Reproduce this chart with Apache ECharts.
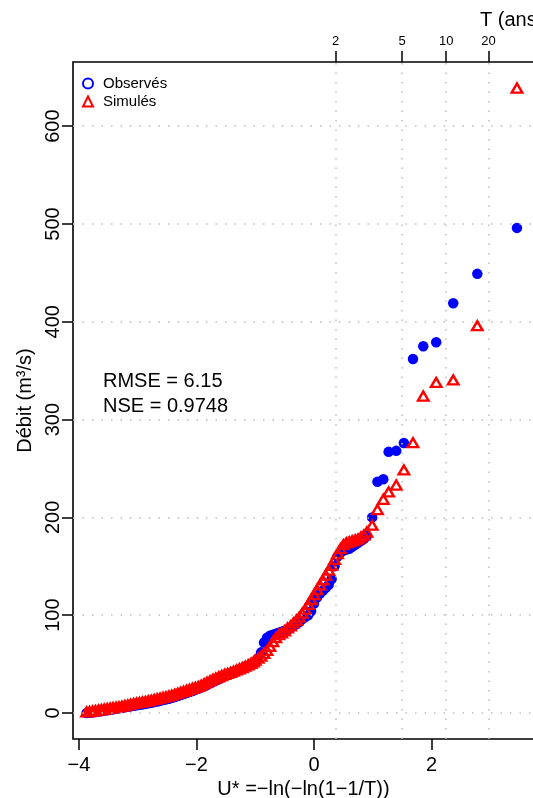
<!DOCTYPE html>
<html>
<head>
<meta charset="utf-8">
<script src="https://cdn.jsdelivr.net/npm/echarts@6/dist/echarts.min.js"></script>
<style>
html,body{margin:0;padding:0;background:#fff;}
#chart{width:533px;height:798px;}
</style>
</head>
<body>
<div id="chart"></div>
<script>
// Gumbel reduced variable (plotting positions) shared by both series
const uValues = [-3.87,-3.82,-3.77,-3.72,-3.67,-3.62,-3.57,-3.52,-3.47,-3.42,-3.37,-3.32,-3.27,-3.22,-3.17,-3.12,-3.07,-3.02,-2.97,-2.92,-2.87,-2.82,-2.77,-2.72,-2.67,-2.62,-2.57,-2.52,-2.47,-2.42,-2.37,-2.32,-2.27,-2.22,-2.17,-2.12,-2.07,-2.02,-1.97,-1.92,-1.87,-1.82,-1.77,-1.72,-1.67,-1.62,-1.57,-1.52,-1.47,-1.42,-1.37,-1.32,-1.27,-1.22,-1.17,-1.12,-1.07,-1.03,
  -1.0,-0.95,-0.9,-0.85,-0.8,-0.75,-0.7,-0.65,-0.6,-0.55,-0.5,-0.45,-0.4,-0.35,-0.3,-0.25,-0.2,-0.15,-0.1,-0.05,0,0.05,0.1,0.15,0.2,0.25,0.3,0.35,0.4,0.45,0.5,0.55,0.6,0.65,0.7,0.75,0.8,0.85,0.9,
  0.99,1.08,1.18,1.27,1.40,1.53,1.685,1.86,2.08,2.37,2.78,3.455];
// Observed discharge (m3/s)
const observed = [0,0.2,0.6,1,1.4,1.9,2.4,2.8,3.3,3.8,4.3,4.8,5.3,5.8,6.3,6.8,7.3,7.8,8.3,8.8,9.3,9.9,10.5,11.2,11.8,12.5,13.2,13.9,14.6,15.5,16.4,17.4,18.4,19.4,20.4,21.4,22.5,23.6,24.8,26,27.4,28.8,30.3,31.8,33.3,34.8,36.3,37.8,39.3,40.6,41.8,43,44.3,45.6,47,48.4,49.9,51.2,
  53,56,62,72,77,79,80,81,82,83,84,85,87,89,91,93,96,98,100,104,112,118,122,125,128,131,137,150,160,164,166,167,168,170,172,174,176,178,181,
  200,236.5,239,267,268,276,362,375,379,419,449,496];
// Simulated discharge (m3/s)
const simulated = [1,1.5,2,2.5,3,3.5,4,4.5,5,5.5,6,6.5,7,7.6,8.3,9,9.7,10.3,10.8,11.3,11.8,12.4,13.1,13.8,14.5,15.2,16,16.7,17.4,18.2,19.2,20.2,21.2,22.2,23.2,24.2,25.2,26.2,27.2,28.5,30,31.5,33,34.5,35.8,37,38.3,39.5,40.5,41.5,42.7,44,45.2,46.4,47.8,49.3,50.8,52.2,
  54,56,58,61,64,68,73,77,80,82,84,87,89,92,95,98,102,106,111,116,121,126,131,136,141,146,151,157,163,168,172,174,175,176,177,178,180,182,185,
  192,208,218.5,226,233,248.5,276.4,324,338,340.5,396,639];
// Axis ticks
const xTicks = [-4,-2,0,2];
const yTicks = [0,100,200,300,400,500,600];
const returnPeriods = [2,5,10,20];
const seriesNames = ['Observés','Simulés'];

const FONT = '"Liberation Sans", Arial, Helvetica, sans-serif';
const gumbel = T => -Math.log(-Math.log(1 - 1/T));
const tU = returnPeriods.map(gumbel);
const minus = v => (v < 0 ? '\u2212' + Math.abs(v) : String(v));

const chart = echarts.init(document.getElementById('chart'), null, {renderer:'canvas'});
const gridStyle = {color:'#BEBEBE', type:[1.5,8], width:1.5};

chart.setOption({
  animation:false,
  backgroundColor:'#fff',
  grid:{left:73, top:62, width:461, height:677, show:true, borderColor:'#000', borderWidth:1.6,
        backgroundColor:'transparent', containLabel:false, outerBoundsMode:'none'},
  legend:{
    orient:'vertical', left:77, top:71, itemWidth:10, itemHeight:10, itemGap:3,
    textStyle:{fontSize:15, color:'#000', fontFamily:FONT, padding:[0,0,0,5]},
    data:[
      {name:seriesNames[0], icon:'circle', itemStyle:{color:'rgba(0,0,0,0)', borderColor:'#0000ff', borderWidth:2}},
      {name:seriesNames[1], icon:'triangle', itemStyle:{color:'rgba(0,0,0,0)', borderColor:'#ff0000', borderWidth:2}}
    ]
  },
  xAxis:[
    {type:'value', position:'bottom', min:-4.102, max:3.745,
     axisLine:{show:false, onZero:false}, splitLine:{show:false},
     axisTick:{show:true, customValues:xTicks, length:11, lineStyle:{color:'#000', width:1.5}},
     axisLabel:{customValues:xTicks, formatter:minus, fontSize:20, color:'#000', fontFamily:FONT, margin:16},
     name:'U* =\u2212ln(\u2212ln(1\u22121/T))', nameLocation:'middle', nameGap:37,
     nameTextStyle:{fontSize:20, color:'#000', fontFamily:FONT}},
    {type:'value', position:'top', min:-4.102, max:3.745,
     axisLine:{show:false, onZero:false}, splitLine:{show:false},
     axisTick:{show:true, customValues:tU, length:11, lineStyle:{color:'#000', width:1.5}},
     axisLabel:{customValues:tU, fontSize:13, color:'#000', fontFamily:FONT, margin:14,
       formatter:v => { let best=0; tU.forEach((u,i)=>{ if(Math.abs(u-v)<Math.abs(tU[best]-v)) best=i; }); return String(returnPeriods[best]); }}}
  ],
  yAxis:{type:'value', min:-26.6, max:665.6,
    axisLine:{show:false, onZero:false}, splitLine:{show:false},
    axisTick:{show:true, customValues:yTicks, length:11, lineStyle:{color:'#000', width:1.5}},
    axisLabel:{customValues:yTicks, rotate:90, fontSize:20, color:'#000', fontFamily:FONT, margin:10},
    name:'Débit (m³/s)', nameLocation:'middle', nameRotate:90, nameGap:21,
    nameTextStyle:{fontSize:20, color:'#000', fontFamily:FONT}},
  graphic:[
    {type:'text', left:103, top:371, style:{text:'RMSE = 6.15', font:'20px ' + FONT, fill:'#000'}},
    {type:'text', left:103, top:396, style:{text:'NSE = 0.9748', font:'20px ' + FONT, fill:'#000'}},
    {type:'text', left:480, top:10, style:{text:'T (ans)', font:'20px ' + FONT, fill:'#000'}}
  ],
  series:[
    {type:'line', data:[], silent:true, z:1,
     markLine:{silent:true, symbol:'none', label:{show:false}, lineStyle:gridStyle, animation:false,
       data: yTicks.map(v=>({yAxis:v})).concat(tU.map(u=>({xAxis:u})))}},
    {type:'scatter', name:seriesNames[0], z:2, symbol:'circle', symbolSize:10.5,
     itemStyle:{color:'#0000ff', opacity:1},
     data:uValues.map((u,i)=>[u, observed[i]])},
    {type:'scatter', name:seriesNames[1], z:3, symbol:'triangle', symbolSize:[10.5,9],
     itemStyle:{color:'rgba(0,0,0,0)', borderColor:'#ff0000', borderWidth:2.4, opacity:1},
     data:uValues.map((u,i)=>[u, simulated[i]])}
  ]
});
</script>
</body>
</html>
